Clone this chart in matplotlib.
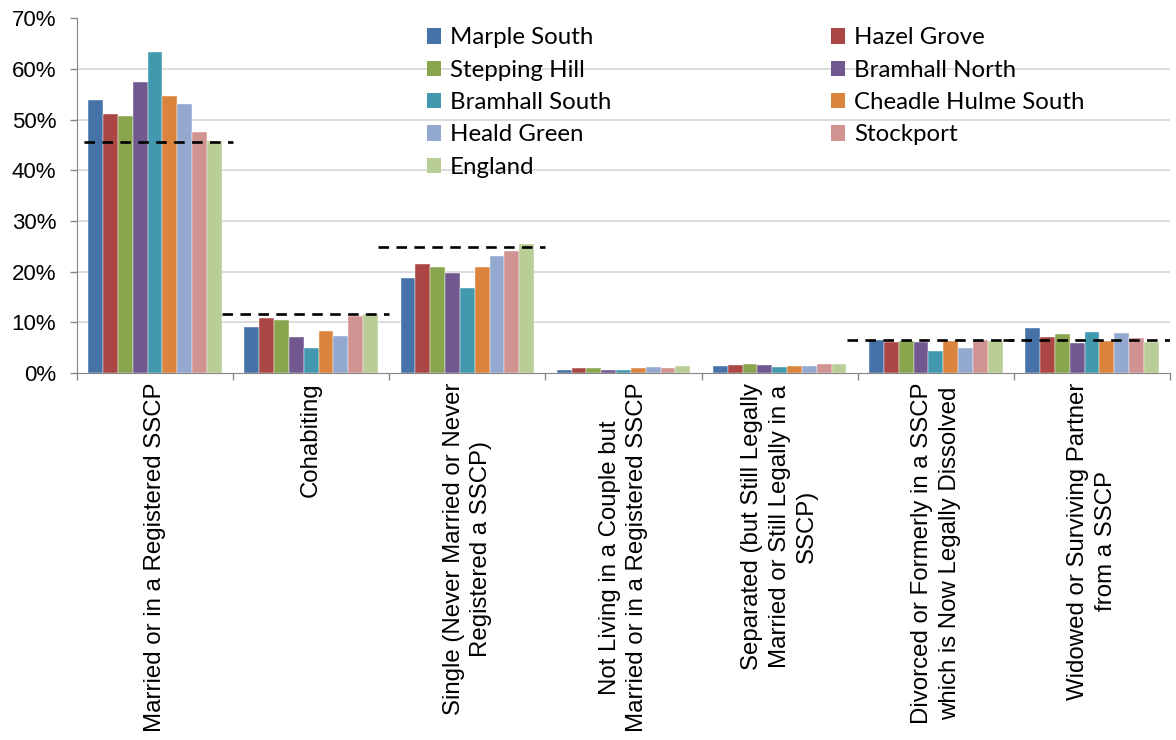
import numpy as np
import matplotlib
matplotlib.use("Agg")
import matplotlib.pyplot as plt
from matplotlib.patches import Patch, Rectangle

categories = [
    "Married or in a Registered SSCP",
    "Cohabiting",
    "Single (Never Married or Never\nRegistered a SSCP)",
    "Not Living in a Couple but\nMarried or in a Registered SSCP",
    "Separated (but Still Legally\nMarried or Still Legally in a\nSSCP)",
    "Divorced or Formerly in a SSCP\nwhich is Now Legally Dissolved",
    "Widowed or Surviving Partner\nfrom a SSCP",
]

areas = ["Marple South", "Hazel Grove", "Stepping Hill", "Bramhall North",
         "Bramhall South", "Cheadle Hulme South", "Heald Green", "Stockport",
         "England"]

colors = ["#4572A7", "#AA4643", "#89A54E", "#71588F", "#4198AF",
          "#DB843D", "#93A9CF", "#D19392", "#B9CD96"]

# percentages, one list per area (same order as categories)
marple_south = [53.9, 9.0, 18.8, 0.5, 1.3, 6.6, 8.9]
hazel_grove = [51.1, 10.9, 21.5, 0.9, 1.6, 6.2, 7.2]
stepping_hill = [50.8, 10.4, 21.0, 0.9, 1.8, 6.4, 7.7]
bramhall_north = [57.5, 7.1, 19.8, 0.5, 1.6, 6.2, 5.9]
bramhall_south = [63.3, 4.9, 16.8, 0.6, 1.1, 4.4, 8.1]
cheadle_hulme_south = [54.6, 8.2, 21.0, 0.9, 1.3, 6.4, 6.4]
heald_green = [53.1, 7.4, 23.0, 1.1, 1.3, 4.9, 7.9]
stockport = [47.6, 11.2, 24.1, 0.9, 1.8, 6.6, 6.9]
england = [45.8, 11.7, 25.5, 1.3, 1.8, 6.4, 6.1]

# dashed reference levels (None = no line)
reference = [45.6, 11.7, 24.9, None, None, 6.45, 6.45]

yticks = [0, 10, 20, 30, 40, 50, 60, 70]
ytick_labels = ["0%", "10%", "20%", "30%", "40%", "50%", "60%", "70%"]


def main():
    series = [marple_south, hazel_grove, stepping_hill, bramhall_north,
              bramhall_south, cheadle_hulme_south, heald_green, stockport,
              england]

    W, H = 1176, 740
    fig = plt.figure(figsize=(W / 100, H / 100), dpi=100)
    ax = fig.add_axes([77 / W, 1 - 373 / H, (1170 - 77) / W, (373 - 18.3) / H])

    x = np.arange(len(categories))
    w = 0.0951
    n = len(series)
    for j, vals in enumerate(series):
        ax.bar(x + (j - (n - 1) / 2) * w, vals, width=w, color=colors[j],
               label=areas[j], zorder=3, edgecolor="white", linewidth=0.3)

    for i, v in enumerate(reference):
        if v is None:
            continue
        ax.plot([i - 0.57, i + 0.5], [v, v], color="black", lw=1.9,
                dashes=(4, 2.8), zorder=4, clip_on=True)

    ax.set_xlim(-0.5, len(categories) - 0.5)
    ax.set_ylim(0, 70)

    # y axis
    ax.set_yticks(yticks)
    ax.set_yticklabels(ytick_labels, fontsize=16, family="Liberation Sans")
    ax.tick_params(axis="y", direction="out", length=5, width=1,
                   color="#868686", pad=10)
    ax.yaxis.grid(True, color="#D9D9D9", lw=1.3, zorder=0)
    for gl, v in zip(ax.yaxis.get_gridlines(), yticks):
        if v in (0, 70):
            gl.set_visible(False)

    # x axis: ticks on group boundaries, labels at centers
    ax.set_xticks(np.arange(len(categories) + 1) - 0.5)
    ax.set_xticklabels([])
    ax.tick_params(axis="x", which="major", direction="out", length=5,
                   width=1, color="#868686")
    ax.set_xticks(x, minor=True)
    ax.set_xticklabels(categories, minor=True, rotation=90, ha="center",
                       va="top", multialignment="center", fontsize=17.3,
                       family="Liberation Sans", linespacing=1.33)
    ax.tick_params(axis="x", which="minor", length=0, pad=7)

    for s in ["top", "right"]:
        ax.spines[s].set_visible(False)
    ax.spines["left"].set_color("#868686")
    ax.spines["bottom"].set_color("#868686")
    ax.spines["left"].set_zorder(5)
    ax.spines["bottom"].set_zorder(5)

    # white area behind the legend hiding gridlines
    ax.add_patch(Rectangle((0.2507, 0.516), 0.76, 0.5, transform=ax.transAxes,
                           facecolor="white", edgecolor="none", zorder=1,
                           clip_on=False))

    # row-major legend order
    order = [0, 2, 4, 6, 8, 1, 3, 5, 7]
    handles = [Patch(facecolor=colors[k], edgecolor="none") for k in order]
    labels = [areas[k] for k in order]
    ax.legend(handles, labels, loc="upper left",
              bbox_to_anchor=(427 / W, 1 - 27.5 / H),
              bbox_transform=fig.transFigure, ncol=2, frameon=False,
              borderpad=0, borderaxespad=0, handlelength=0.6,
              handleheight=0.6, handletextpad=0.35, columnspacing=9.15,
              labelspacing=0.47, prop={"family": "Lato", "size": 17.3})

    fig.savefig("out.png", dpi=100)


if __name__ == "__main__":
    main()
